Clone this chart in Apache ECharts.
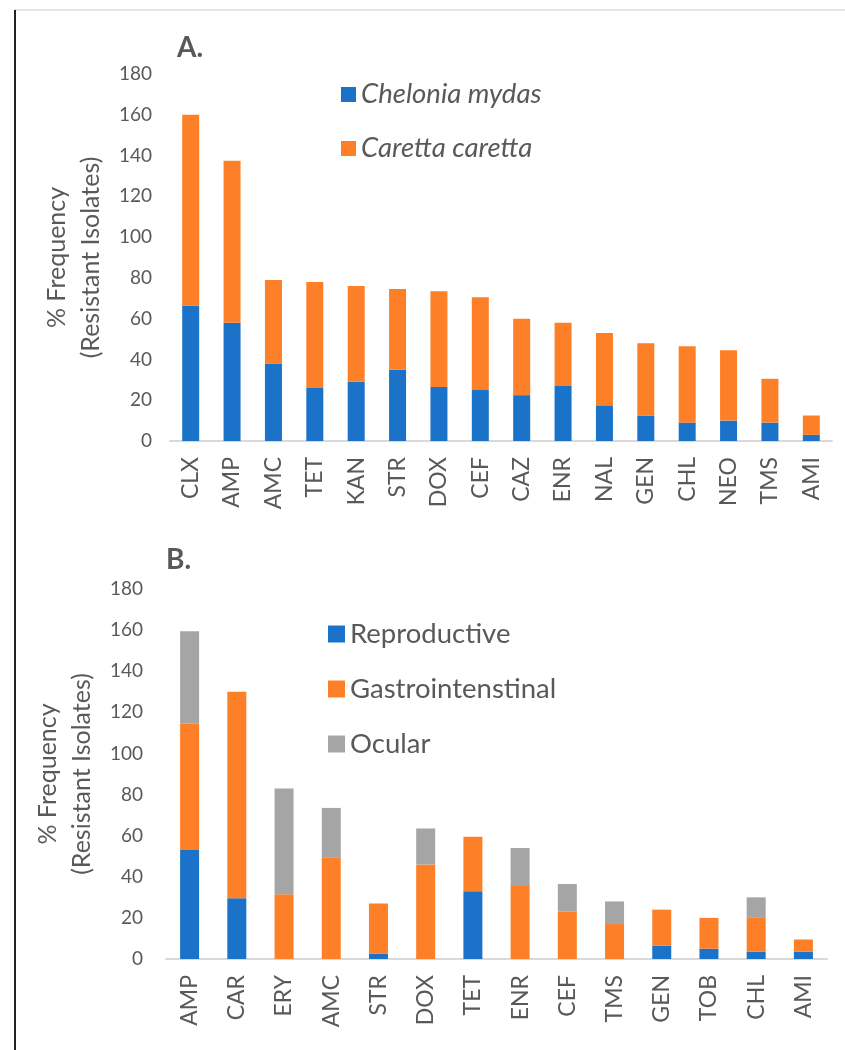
<!DOCTYPE html>
<html>
<head>
<meta charset="utf-8">
<script src="https://cdn.jsdelivr.net/npm/echarts@6/dist/echarts.min.js"></script>
<style>
html,body{margin:0;padding:0;background:#fff;}
#chart{width:845px;height:1050px;}
</style>
</head>
<body>
<div id="chart"></div>
<script>
// Panel A data
var catsA = ['CLX','AMP','AMC','TET','KAN','STR','DOX','CEF','CAZ','ENR','NAL','GEN','CHL','NEO','TMS','AMI'];
var cheloniaMydas = [66.5, 58, 38, 26, 29, 35, 26.5, 25, 22.5, 27, 17.5, 12.5, 9, 10, 9, 3];
var carettaCaretta = [93.5, 79.5, 41, 52, 47, 39.5, 47, 45.5, 37.5, 31, 35.5, 35.5, 37.5, 34.5, 21.5, 9.5];

// Panel B data
var catsB = ['AMP','CAR','ERY','AMC','STR','DOX','TET','ENR','CEF','TMS','GEN','TOB','CHL','AMI'];
var reproductive = [53, 29.5, 0, 0, 2.5, 0, 33, 0, 0, 0, 6.5, 5, 3.5, 3.5];
var gastro = [61.5, 100.5, 31.5, 49.5, 24.5, 46, 26.5, 35.5, 23, 17, 17.5, 15, 16.5, 6];
var ocular = [45, 0, 51.5, 24, 0, 17.5, 0, 18.5, 13.5, 11, 0, 0, 10, 0];

var yTicks = [0, 20, 40, 60, 80, 100, 120, 140, 160, 180];

var FONT = 'Lato';
var TXT = '#595959';
var BLUE = '#1a73c9';
var ORANGE = '#fd7f27';
var GREY = '#a5a5a5';

var chart = echarts.init(document.getElementById('chart'), null, {renderer: 'canvas'});

function yAxis(gridIndex, margin, gap) {
  return {
    type: 'value', gridIndex: gridIndex,
    min: yTicks[0], max: yTicks[yTicks.length - 1], interval: yTicks[1] - yTicks[0],
    splitLine: {show: false}, axisLine: {show: false}, axisTick: {show: false},
    axisLabel: {color: TXT, fontFamily: FONT, fontSize: 19, margin: margin},
    name: '% Frequency\n(Resistant Isolates)',
    nameLocation: 'middle', nameRotate: 90, nameGap: gap,
    nameTextStyle: {color: TXT, fontFamily: FONT, fontSize: 25, lineHeight: 34, align: 'center'}
  };
}
function xAxis(gridIndex, cats) {
  return {
    type: 'category', gridIndex: gridIndex, data: cats,
    axisLine: {show: true, lineStyle: {color: '#d9d9d9', width: 2}},
    axisTick: {show: false},
    axisLabel: {color: TXT, fontFamily: FONT, fontSize: 23, rotate: 90, margin: 16, interval: 0}
  };
}

var option = {
  animation: false,
  backgroundColor: '#fff',
  textStyle: {fontFamily: FONT},
  title: [
    {text: 'A.', left: 172, top: 29, textStyle: {color: TXT, fontFamily: FONT, fontSize: 28, fontWeight: 'bold'}},
    {text: 'B.', left: 161, top: 541, textStyle: {color: TXT, fontFamily: FONT, fontSize: 28, fontWeight: 'bold'}}
  ],
  legend: [
    {
      data: ['Chelonia mydas', 'Caretta caretta'],
      orient: 'vertical', left: 341, top: 81, padding: 0,
      itemWidth: 15, itemHeight: 15, itemGap: 27, itemTextGap: 8, icon: 'rect',
      textStyle: {color: TXT, fontFamily: FONT, fontSize: 27.5, fontStyle: 'italic', lineHeight: 26}
    },
    {
      data: ['Reproductive', 'Gastrointenstinal', 'Ocular'],
      orient: 'vertical', left: 328, top: 620, padding: 0,
      itemWidth: 17, itemHeight: 17, itemGap: 27, itemTextGap: 7, icon: 'rect',
      textStyle: {color: TXT, fontFamily: FONT, fontSize: 27.5, lineHeight: 26}
    }
  ],
  grid: [
    {left: 170, right: 13, top: 74, bottom: 609, containLabel: false},
    {left: 166, right: 18, top: 589, bottom: 91, containLabel: false}
  ],
  xAxis: [xAxis(0, catsA), xAxis(1, catsB)],
  yAxis: [yAxis(0, 18, 58), yAxis(1, 23, 64)],
  series: [
    {name: 'Chelonia mydas', type: 'bar', stack: 'a', xAxisIndex: 0, yAxisIndex: 0, data: cheloniaMydas, barWidth: 17, itemStyle: {color: BLUE}},
    {name: 'Caretta caretta', type: 'bar', stack: 'a', xAxisIndex: 0, yAxisIndex: 0, data: carettaCaretta, barWidth: 17, itemStyle: {color: ORANGE}},
    {name: 'Reproductive', type: 'bar', stack: 'b', xAxisIndex: 1, yAxisIndex: 1, data: reproductive, barWidth: 19, itemStyle: {color: BLUE}},
    {name: 'Gastrointenstinal', type: 'bar', stack: 'b', xAxisIndex: 1, yAxisIndex: 1, data: gastro, barWidth: 19, itemStyle: {color: ORANGE}},
    {name: 'Ocular', type: 'bar', stack: 'b', xAxisIndex: 1, yAxisIndex: 1, data: ocular, barWidth: 19, itemStyle: {color: GREY}}
  ],
  graphic: [
    {type: 'line', shape: {x1: 14, y1: 10, x2: 845, y2: 10}, style: {stroke: '#e6e6e6', lineWidth: 2}, silent: true},
    {type: 'line', shape: {x1: 15, y1: 10, x2: 15, y2: 1050}, style: {stroke: '#222', lineWidth: 2}, silent: true}
  ]
};
chart.setOption(option);
</script>
</body>
</html>
